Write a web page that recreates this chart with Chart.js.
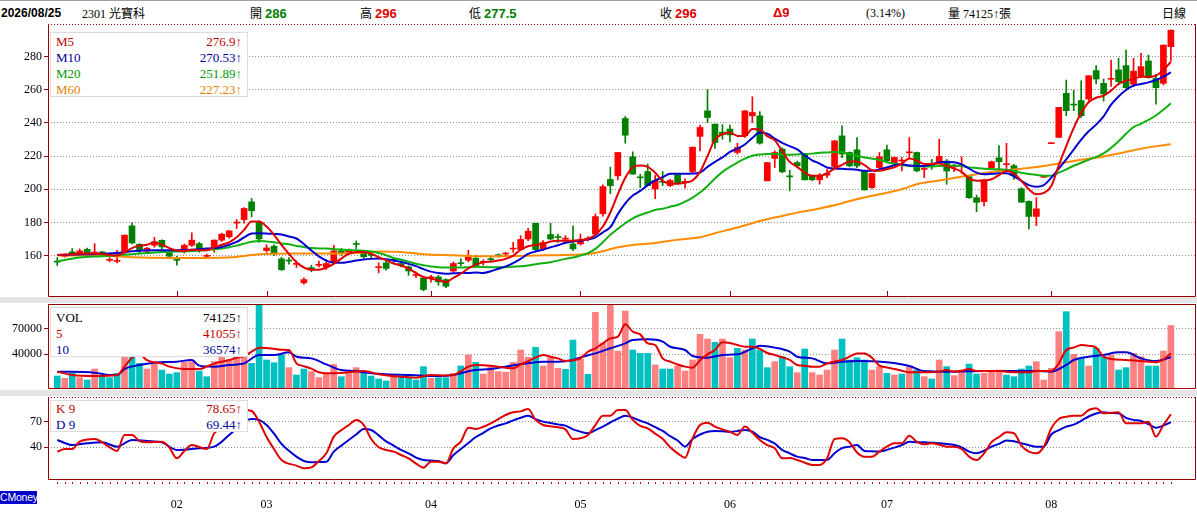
<!DOCTYPE html>
<html>
<head>
<meta charset="utf-8">
<script src="https://cdn.jsdelivr.net/npm/chart.js"></script>
<style>
body { margin: 0; background: #fff; width: 1197px; height: 513px; overflow: hidden; position: relative;
  font-family: 'Liberation Serif', 'Noto Sans CJK TC', serif; }
canvas { position: absolute; left: 0; }
.topline { position: absolute; left: 0; top: 0; width: 1197px; height: 1px; background: #a0a0a0; }
.hd { position: absolute; top: 5px; font-size: 12px; line-height: 16px; white-space: nowrap; color: #000; }
.hd b { font-family: 'Liberation Sans', sans-serif; font-size: 13px; }
.cjk { font-family: 'Noto Sans CJK TC', sans-serif; font-size: 12px; }
.g { color: #008000; }
.r { color: #e00000; }
.band { position: absolute; left: 0; width: 1197px; background: #e4e4e4; }
.box { position: absolute; left: 50px; width: 198px; background: #fff; border: 1px solid #dcdcdc; box-sizing: border-box;
  font-size: 13px; line-height: 16px; }
.row { display: flex; justify-content: space-between; padding: 0 5px 0 5px; white-space: nowrap; }
.cm { position: absolute; left: 0; top: 491px; width: 37px; height: 13px; background: #0000c8; color: #fff;
  font-family: 'Liberation Sans', sans-serif; font-size: 10.5px; line-height: 13px; overflow: hidden; letter-spacing: -0.2px; }
</style>
</head>
<body>
<div class="topline"></div>
<div class="hd" style="left:1px"><b style="font-size:12px">2026/08/25</b></div>
<div class="hd" style="left:82px">2301 <span class="cjk">光寶科</span></div>
<div class="hd" style="left:250px"><span class="cjk">開</span> <b class="g">286</b></div>
<div class="hd" style="left:360px"><span class="cjk">高</span> <b class="r">296</b></div>
<div class="hd" style="left:469px"><span class="cjk">低</span> <b class="g">277.5</b></div>
<div class="hd" style="left:660px"><span class="cjk">收</span> <b class="r">296</b></div>
<div class="hd" style="left:773px"><b class="r">Δ9</b></div>
<div class="hd" style="left:866px">(3.14%)</div>
<div class="hd" style="left:948px"><span class="cjk">量</span> 74125↑<span class="cjk">張</span></div>
<div class="hd" style="left:1162px"><span class="cjk">日線</span></div>

<canvas id="priceChart" width="1197" height="273" style="top:24px"></canvas>
<div class="band" style="top:297px;height:6px"></div>
<canvas id="volChart" width="1197" height="85" style="top:304px"></canvas>
<div class="band" style="top:390px;height:6px"></div>
<canvas id="kdChart" width="1197" height="116" style="top:397px"></canvas>

<div class="box" style="top:32px;height:65px;padding-top:1px">
  <div class="row" style="color:#c00000"><span>M5</span><span>276.9↑</span></div>
  <div class="row" style="color:#000099"><span>M10</span><span>270.53↑</span></div>
  <div class="row" style="color:#009900"><span>M20</span><span>251.89↑</span></div>
  <div class="row" style="color:#e08000"><span>M60</span><span>227.23↑</span></div>
</div>
<div class="box" style="top:307px;height:50px;padding-top:2px">
  <div class="row" style="color:#000"><span>VOL</span><span>74125↑</span></div>
  <div class="row" style="color:#c00000"><span>5</span><span>41055↑</span></div>
  <div class="row" style="color:#000099"><span>10</span><span>36574↑</span></div>
</div>
<div class="box" style="top:400px;height:32px">
  <div class="row" style="color:#c00000"><span>K 9</span><span>78.65↑</span></div>
  <div class="row" style="color:#000099"><span>D 9</span><span>69.44↑</span></div>
</div>
<div class="cm">CMoney</div>

<script>
// daily candles, index 0 = first trading day shown
const openP = [
  156.5, 159.5, 162.2, 160.8, 163.8, 161.5, 162.2, 157.1, 156.5, 161.8,
  177.9, 166.8, 162.6, 166.2, 169.2, 161.6, 157.4, 163.6, 166.2, 167.2,
  159.5, 164.2, 169.3, 171.3, 179.6, 181.7, 192.4, 180, 163, 165.6,
  158, 156.9, 154.7, 143.5, 152.3, 154.1, 153.2, 156.2, 162.8, 161.6,
  166.9, 162.2, 160.3, 152.7, 155.6, 157.3, 155.2, 153.2, 148, 146.5,
  146.6, 147.1, 145.5, 150.7, 155.3, 157.2, 158.4, 155.9, 157.7, 160.1,
  160.9, 163.9, 163.6, 170, 179.5, 164, 172.7, 171.1, 169.9, 167,
  167, 169.9, 173, 185.2, 205.9, 208.1, 242.7, 219.6, 207.1, 210.7,
  200.2, 204.4, 202.2, 208.7, 204.2, 210.7, 231.9, 247.3, 239.3, 234.5,
  236.3, 222.2, 232.2, 244.3, 244.3, 205.1, 218.6, 224.2, 207.9, 216.1,
  221.2, 208.1, 205.7, 208.5, 213.7, 232.2, 222.2, 223.8, 211.1, 201,
  213.1, 223.8, 216.1, 217, 222, 222.2, 212, 214.3, 216.5, 217,
  213.5, 214, 207.6, 194.9, 192.5, 213, 219, 214.8, 214.2, 200.3,
  192.7, 183.6, 207.2, 227.5, 231.3, 257.9, 251.2, 253.5, 254.5, 271.6,
  263.9, 266.3, 272, 274.6, 263.3, 268.5, 277.4, 266.9, 263.9, 286
];
const highP = [
  158.8, 161, 164.2, 164, 164.5, 167.2, 162.5, 158.8, 163.2, 172.5,
  179.7, 167.2, 165, 171, 169.5, 162.2, 159.6, 167, 173.7, 168,
  160.8, 169.5, 173.5, 175.2, 181.7, 189, 194.4, 181, 166.5, 166.5,
  159, 158.8, 156.8, 146.5, 154.2, 156.6, 157.2, 166.2, 164.2, 164,
  168.8, 163, 161.5, 155.6, 157.2, 158.5, 156.5, 153.8, 150.1, 147,
  148.1, 148.1, 146, 156.2, 158.2, 163.2, 160, 157.5, 159.5, 161,
  162, 168, 172, 176.5, 179.5, 169, 179.5, 173, 172, 178,
  173, 171.5, 185.2, 202.6, 213.3, 222.2, 243.9, 222.6, 209.1, 215.3,
  208.3, 210.7, 206, 209.5, 206.3, 225.4, 238.7, 260, 239.3, 239,
  238.7, 227.8, 247.5, 255.8, 246.8, 216.1, 223.2, 225, 211.5, 217,
  221.5, 208.5, 209.5, 212, 229.5, 238.3, 222.5, 231.2, 211.5, 209.5,
  222.2, 226.6, 219.5, 219.2, 231.2, 222.5, 214, 218, 230.2, 218,
  215, 219.6, 208, 196.5, 206, 217, 226.3, 227.7, 215, 201,
  193, 195, 207.2, 227.5, 249.4, 265.9, 259.7, 265.5, 268.5, 274.6,
  266.5, 278, 279, 284, 279, 282, 281, 269.3, 287, 296
];
const lowP = [
  154, 159, 160.5, 160.5, 161.3, 160.2, 160.5, 156.2, 155.6, 161,
  167, 161, 161.5, 165, 164, 159, 154.2, 161.5, 165.5, 162,
  158.2, 162, 168.5, 170.5, 176.3, 179.5, 183.3, 168, 162, 160,
  151, 154.8, 152.8, 142.7, 150.2, 153.2, 151.6, 155.2, 160.2, 161,
  164.2, 158.5, 158.5, 149.6, 151.2, 155.5, 153.2, 148.1, 146.7, 138.7,
  144, 142.1, 140.7, 150.1, 153.8, 156.2, 152.8, 154.2, 156.5, 159,
  159.8, 162, 163, 169, 162.6, 163, 169.6, 168, 168, 163,
  166.4, 168.8, 172, 183.8, 197.3, 205.7, 227.8, 209.1, 201, 202.2,
  194.3, 202.2, 201.5, 203, 200.6, 209.9, 223.2, 240.3, 224.6, 230.2,
  228.5, 221.2, 231.2, 240.3, 227.2, 205, 213.1, 210, 199, 213,
  205.5, 205.2, 203.1, 207, 213, 219, 213.5, 213, 199.5, 200.5,
  212, 216, 215, 211.1, 219, 210.5, 207, 212, 216, 203,
  210.6, 209.6, 194.5, 186.4, 190, 212, 210.6, 210.6, 206, 192,
  176, 178, 207.2, 227.5, 231.1, 244.4, 247.4, 243.2, 253.5, 263.5,
  253.1, 262, 263, 260.9, 261.9, 267.3, 267, 251.4, 262.9, 277.5
];
const closeP = [
  156, 160.5, 160.8, 162.8, 161.6, 161.7, 160.8, 157.3, 156.7, 172.3,
  167.6, 163.2, 164.4, 168.2, 165.2, 159.6, 157.1, 166.2, 169.3, 163.2,
  159.7, 169.3, 172.9, 174.9, 179.8, 188.4, 187, 170, 164.6, 160.8,
  151.5, 156.7, 154.9, 145.5, 152.1, 154.3, 155.2, 162.8, 161.2, 163.2,
  166.7, 159.2, 160.1, 152.9, 152.2, 157.1, 153.8, 150.7, 148.2, 139.5,
  146.8, 144.1, 141.5, 155.2, 155.1, 160.2, 153.2, 156.1, 157.5, 159.9,
  161.1, 164.1, 169.7, 174.7, 163.6, 168, 170, 170.9, 170.1, 164,
  169, 170.1, 183.5, 201.6, 202.2, 222.2, 232.6, 209.1, 206.9, 202.2,
  205.3, 204.2, 205.3, 203.8, 204.4, 225.4, 237.3, 243.3, 228.2, 233,
  232.8, 225.2, 247.3, 246.3, 227.8, 216.1, 222.2, 210.5, 207.5, 214.1,
  205.7, 205.7, 208.5, 209.5, 229.2, 221.2, 214.1, 214.1, 199.6, 209.5,
  219.6, 217.1, 219.2, 217.3, 222.4, 211.1, 212.3, 214, 219.8, 211,
  214, 214.4, 194.9, 192.1, 205.6, 216.6, 216.6, 215.2, 208.2, 192.2,
  183.6, 188.2, 207.2, 227.5, 249.4, 247.4, 250.8, 244.4, 268.5, 266.5,
  257.5, 266.7, 264.9, 261.3, 271.3, 274, 267.3, 261.3, 287, 296
];
const volume = [
  14300, 11600, 17500, 12400, 9600, 22600, 13500, 12400, 17500, 48000,
  42000, 29300, 22600, 28100, 21400, 16700, 18300, 30500, 31300, 20200,
  13500, 31300, 40000, 33300, 42000, 45000, 29300, 100000, 33300, 30100,
  39200, 24200, 15500, 22600, 19500, 12400, 17500, 28100, 13500, 19500,
  24200, 20200, 14300, 10800, 8400, 15500, 12400, 12400, 9600, 25400,
  11600, 12400, 12400, 17500, 26200, 39200, 30500, 16700, 25400, 19500,
  18700, 30500, 45100, 36400, 48300, 26200, 36000, 23400, 22200, 56900,
  34500, 16300, 89800, 53000, 100000, 43900, 91300, 45100, 41100, 41100,
  27400, 22600, 22600, 26200, 20200, 33300, 63600, 58100, 54200, 58100,
  36000, 47100, 45100, 58100, 45100, 24200, 31300, 37200, 25400, 18300,
  46300, 18300, 15500, 21400, 45100, 58100, 33300, 36000, 33300, 21400,
  25400, 17500, 15500, 16700, 25400, 21400, 13500, 10800, 33300, 25400,
  14700, 18700, 28500, 16700, 17500, 19500, 21400, 15500, 13500, 22600,
  26200, 31300, 9600, 23400, 66800, 90500, 40000, 35200, 26200, 47100,
  37200, 39200, 21400, 24200, 41100, 37200, 26200, 26200, 43900, 74125
];
// 1 = pink (up) volume bar, 0 = cyan
const volUp = [
  0, 1, 0, 1, 0, 1, 0, 0, 0, 1,
  0, 0, 1, 1, 0, 0, 0, 1, 1, 0,
  0, 1, 1, 1, 1, 1, 0, 0, 0, 0,
  0, 1, 0, 0, 1, 1, 1, 1, 0, 1,
  1, 0, 0, 0, 0, 1, 0, 0, 0, 0,
  1, 0, 0, 1, 0, 1, 0, 1, 1, 1,
  1, 1, 1, 1, 0, 1, 1, 1, 0, 0,
  1, 0, 1, 1, 1, 1, 1, 0, 0, 0,
  1, 0, 0, 1, 1, 1, 1, 1, 0, 1,
  1, 0, 1, 0, 0, 0, 1, 0, 0, 1,
  0, 1, 1, 1, 1, 0, 0, 0, 0, 1,
  1, 0, 1, 0, 1, 0, 1, 0, 1, 0,
  1, 1, 0, 0, 1, 1, 1, 0, 0, 0,
  0, 1, 1, 1, 1, 0, 1, 0, 1, 0,
  0, 1, 0, 0, 1, 1, 0, 0, 1, 1
];

// moving averages: [day index, value]
const m5 = [[0,160.3],[2,160.8],[4,161.2],[6,161],[8,160],[9,162],[10,164.5],[11,166],[12,166.5],[13,168],[14,166.5],[15,164.5],[16,163],[17,162.8],[18,163.5],[19,163.2],[20,163.2],[21,165],[22,166.5],[23,168],[24,171],[25,175.5],[26,180.5],[27,180.5],[28,177.5],[29,172.5],[30,166.5],[31,161],[32,156],[33,152.8],[34,151.5],[35,151.5],[36,152.8],[37,155],[38,158.2],[39,161],[40,162.2],[41,162.2],[42,161.2],[43,159],[44,157.2],[45,155.2],[46,154],[47,152.2],[48,149.5],[49,147.1],[50,146.1],[51,145.1],[52,144.1],[53,146.5],[54,149.1],[55,152.2],[56,154.5],[57,156],[58,156.3],[59,157],[60,158],[61,160],[62,163.5],[63,165.6],[64,166.5],[65,167],[66,168.5],[67,169],[68,169],[69,169],[70,169.5],[71,170],[72,172.5],[73,177.5],[74,186],[75,197],[76,207],[77,213.3],[78,214.3],[79,213.5],[80,210],[81,205],[82,203.5],[83,203.3],[84,204],[85,205.3],[86,210.5],[87,220],[88,230],[89,233.2],[90,234.2],[91,232.2],[92,232.2],[93,236.3],[94,236],[95,232],[96,229.5],[97,223],[98,216.5],[99,213.5],[100,210],[101,208.1],[102,208.1],[103,209.7],[104,212.5],[105,214.7],[106,216.7],[107,216.8],[108,214.5],[109,211.5],[110,211.1],[111,212.1],[112,213.3],[113,215.5],[114,218.5],[115,217.3],[116,215.3],[117,215.3],[118,215.5],[119,214],[120,212.5],[121,210.5],[122,206.5],[123,205.2],[124,205.3],[125,206],[126,208.5],[127,211],[128,209.5],[129,205],[130,200],[131,197],[132,197.8],[133,202],[134,214.5],[135,226],[136,237],[137,246],[138,252.5],[139,255.2],[140,256.5],[141,259.5],[142,263.5],[143,265.5],[144,266.5],[145,267.9],[146,267.9],[147,268.5],[148,272],[149,276.9]];
const m10 = [[0,160.3],[4,160.8],[8,161.5],[10,162.6],[13,163.2],[16,163.2],[18,163.5],[20,164.2],[22,165.2],[24,168.2],[25,171],[26,173.3],[27,173.5],[28,173.3],[29,173],[30,172.7],[31,171.5],[32,170.3],[33,167],[34,163],[35,159.5],[36,157],[37,155.6],[38,155.6],[39,156.2],[40,157],[41,157.6],[42,158],[43,158.2],[44,157.8],[45,157],[46,156.2],[47,155],[48,153.6],[49,151.8],[50,150.3],[51,149.5],[52,149.1],[53,149.3],[54,149.5],[55,149.5],[56,149.8],[57,149.5],[58,150.5],[59,152],[60,153.5],[61,155.5],[62,158],[63,161],[64,162.5],[65,163.6],[66,165],[67,166.2],[68,167.7],[69,168.5],[70,169],[71,169.8],[72,171],[73,174],[74,177.1],[75,185],[76,191.5],[77,196.2],[78,199],[79,202.5],[80,205.3],[81,207.3],[82,209.3],[83,209.3],[84,209.3],[85,209.5],[86,210.1],[87,213.5],[88,216.5],[89,219.2],[90,222.5],[91,224.5],[92,227],[93,231],[94,234.2],[95,233.5],[96,230.5],[97,228],[98,226],[99,224],[100,220.5],[101,217.5],[102,215.5],[103,213.1],[104,212.5],[105,212.3],[106,212.1],[107,211.8],[108,211.1],[109,211.1],[110,212],[111,213.1],[112,214.5],[113,215.1],[114,214.3],[115,214.1],[116,214.1],[117,215],[118,216.3],[119,216.5],[120,216.3],[121,215],[122,212.5],[123,210],[124,209],[125,209.3],[126,209.6],[127,209.6],[128,207.8],[129,205],[130,202.5],[131,201.5],[132,202.5],[133,207],[134,212.5],[135,218],[136,224],[137,230],[138,235],[139,239],[140,244],[141,251],[142,256],[143,259.9],[144,262.5],[145,263.5],[146,264.5],[147,265.9],[148,268],[149,270.53]];
const m20 = [[0,156.5],[3,158.8],[6,159.6],[10,160.8],[14,162.2],[18,162.8],[22,164.2],[24,166],[25,167.2],[26,168.3],[27,168.8],[28,168.5],[29,168],[30,167.3],[31,166.8],[32,165.8],[33,165.2],[34,164.5],[36,164.2],[38,163.6],[40,163.2],[41,162.9],[42,162.5],[43,161.5],[44,160.2],[45,158.5],[46,157.5],[47,156.3],[48,155],[49,154.2],[50,153.4],[51,153],[52,152.8],[54,152.8],[56,153.2],[58,153],[60,153],[62,153.5],[63,154],[64,154.8],[66,156],[68,158],[69,158.8],[70,160],[71,161.5],[72,164],[73,168],[74,172.5],[75,176.1],[76,179.5],[77,182.5],[78,184.5],[79,186],[80,187.5],[81,188.2],[82,189.5],[83,190.5],[84,192.5],[85,195],[86,198],[87,202],[88,206.5],[89,210.5],[90,213.5],[91,216.1],[92,218.5],[93,220.2],[94,221],[95,221.2],[96,221.2],[97,221],[98,220.8],[99,221],[100,221.2],[101,221.5],[102,222],[103,222.2],[104,222.5],[105,222.3],[106,221.2],[107,220.2],[108,219.2],[109,218.5],[110,217.8],[111,216.3],[112,215.5],[113,214.7],[114,214.2],[115,213.7],[116,213.7],[117,213.7],[118,214],[119,214],[120,214.3],[121,214],[122,213.2],[123,212.8],[124,212.4],[125,212.2],[126,212],[127,211.6],[128,211],[129,210],[130,209.2],[131,208.7],[132,208.2],[133,208.2],[134,210],[135,212],[136,214.2],[137,216],[138,217.8],[139,219.5],[140,221.6],[141,225],[142,229],[143,233.5],[144,237.5],[145,239.5],[146,241.8],[147,244.5],[148,248],[149,251.89]];
const m60 = [[0,160],[5,160],[8,159.6],[10,159],[15,158.5],[20,158.5],[24,159.2],[27,160.8],[31,161.2],[36,161.2],[40,161.6],[43,162.5],[46,162.2],[49,160.8],[53,160.2],[57,159.6],[60,159.6],[64,160],[68,160.4],[71,161],[73,162.6],[75,165],[77,166.4],[80,167.6],[82,169],[84,170],[86,171],[88,173.5],[91,176.9],[94,180.9],[97,183.9],[99,185.9],[102,188.4],[105,191.6],[107,194],[110,197],[113,200],[115,203],[118,205.3],[121,207.6],[124,209.8],[126,211],[129,212.4],[132,214],[134,215.6],[137,217.8],[140,219.8],[142,221.6],[145,224.5],[148,226.6],[149,227.23]];

const vol5 = [[0,19500],[2,15500],[5,14300],[8,15500],[9,25400],[10,36000],[11,40000],[12,33000],[13,30500],[14,29000],[15,25400],[17,22600],[19,22600],[20,25400],[21,29000],[22,31300],[23,33300],[24,36000],[25,38000],[26,43100],[27,47900],[28,47500],[29,46500],[30,45500],[31,45100],[32,29300],[33,26000],[34,23000],[35,18700],[36,17500],[38,18000],[39,18700],[41,20200],[43,16300],[45,14000],[46,13500],[48,12400],[50,15500],[52,15000],[53,15500],[54,20000],[55,25400],[56,27400],[58,26600],[59,25400],[60,24000],[61,23400],[62,28100],[63,32000],[64,36000],[65,39200],[66,37000],[67,35200],[68,32100],[69,33000],[70,35200],[71,43000],[72,47100],[73,53000],[74,58900],[75,60900],[76,75500],[77,66800],[78,63600],[79,53000],[80,51000],[81,35200],[82,31300],[83,28000],[84,25400],[85,24200],[86,33000],[87,40000],[88,45100],[89,54200],[90,53500],[91,51000],[92,49000],[93,49000],[94,46500],[95,41500],[96,39200],[97,36500],[98,33300],[99,27400],[100,26500],[101,25400],[102,25400],[103,29000],[104,31300],[105,33300],[106,37200],[107,41100],[108,41100],[109,36000],[110,26600],[111,24500],[112,22600],[113,20500],[114,18700],[116,18700],[118,19500],[119,21400],[120,19500],[121,20500],[122,22600],[123,20200],[126,20200],[128,18700],[130,18700],[131,20200],[133,20200],[134,29300],[135,45100],[136,48000],[137,51000],[138,50000],[139,47900],[140,37200],[141,34500],[143,33300],[145,32100],[147,30500],[148,34000],[149,41055]];
const vol10 = [[0,19500],[5,18300],[7,15500],[8,15500],[9,22600],[11,27400],[13,30100],[16,31300],[18,33300],[19,26600],[21,25400],[23,27400],[25,29300],[27,39200],[29,39200],[31,42300],[32,37200],[34,35200],[36,28100],[38,21400],[40,20200],[41,18700],[44,16300],[47,15500],[49,14700],[51,14300],[53,15500],[55,20000],[56,21400],[58,22600],[60,25400],[63,29300],[65,31300],[67,31300],[69,33300],[70,36400],[72,41100],[74,47100],[76,53000],[77,56900],[79,57700],[81,55000],[82,49000],[84,45100],[85,38000],[87,36000],[89,39200],[91,40000],[93,47100],[94,50200],[96,47900],[98,43100],[99,37200],[101,35200],[103,29300],[105,31300],[107,32100],[109,31700],[111,30500],[114,26200],[116,20200],[119,19500],[124,20200],[127,20200],[131,20200],[133,19500],[135,27400],[136,33300],[138,37200],[140,39200],[142,42300],[143,42300],[145,35200],[147,32100],[149,36574]];

const kLine = [[0,35],[1,38],[2,38],[3,46.6],[5,49.7],[7,40],[8,35.7],[9,54.4],[10,54.4],[11,47.4],[12,45.8],[14,46.6],[15,39.6],[16,27.1],[17,35.7],[18,42.7],[20,38],[21,56.4],[22,62],[23,70],[24,78],[25,83.6],[26,82.5],[27,70],[28,52],[29,38],[30,25.2],[32,18.6],[33,15.5],[34,16.5],[35,24],[36,33],[37,52.5],[38,60],[39,66],[40,72],[41,66.1],[42,49.7],[43,40],[44,36.9],[45,35],[46,31],[47,27.1],[48,21],[49,16.2],[50,23.2],[51,23.2],[52,21.3],[53,38.8],[54,46.6],[55,63],[56,61.4],[57,64],[58,68],[59,73],[60,77.8],[61,80.9],[62,82],[63,84.8],[64,72],[65,66.1],[66,64.5],[67,63.5],[68,61],[69,49.7],[70,50.5],[71,54.4],[72,66],[73,77],[74,77],[75,83.6],[76,83.6],[77,72],[78,65],[79,62.2],[80,56],[81,50],[82,40],[83,33],[84,27.9],[85,50.5],[86,66],[87,68.8],[88,64.2],[89,61],[90,58],[91,54.4],[92,64.2],[93,57],[94,48.6],[95,42.5],[96,38.8],[97,27.1],[98,27.5],[99,25.2],[100,22],[101,19.4],[102,19.4],[103,27.1],[104,49.7],[105,50.5],[106,46],[107,34],[108,29.1],[109,29.1],[110,35],[111,40.8],[112,44.7],[113,44.7],[114,53.6],[115,46.6],[116,43.5],[117,44.7],[118,43],[119,40.8],[120,40.8],[121,38],[122,29.1],[123,25.2],[124,33],[125,46],[126,52],[127,57.5],[128,56.4],[129,42],[130,35],[131,33],[132,40.8],[133,62.2],[134,73.1],[135,75.8],[136,77],[137,77],[138,83.6],[139,85.6],[140,79.7],[141,80.5],[142,80.9],[143,68],[144,68],[145,68],[146,70],[147,52.5],[148,66.1],[149,78.65]];
const dLine = [[0,48.6],[2,42.7],[4,44.7],[6,45.8],[8,40.8],[10,48.6],[12,47.4],[14,45.8],[16,36.9],[19,38.8],[21,40.8],[23,54.4],[24,62],[25,70],[26,73.1],[27,72],[28,66.1],[29,56],[30,44],[31,36],[32,29.1],[33,24],[34,22.5],[35,22.8],[36,23.2],[37,35],[38,42],[39,48.6],[40,55],[41,61.4],[42,60.3],[43,54],[44,47],[45,42],[46,37],[47,33],[48,28],[49,25.2],[50,24.5],[51,24],[52,21.3],[53,31],[54,38],[55,45],[56,52],[57,57],[58,62.2],[59,65.5],[60,68],[61,71.5],[62,74.5],[63,77],[64,73],[65,70],[66,68.5],[67,66.8],[68,65.3],[69,61],[70,58.3],[71,56.4],[72,60],[73,64.2],[74,69],[75,73.5],[76,77],[77,74.7],[78,71],[79,68],[80,63.5],[81,59.1],[82,53],[83,48],[84,40.8],[85,49.7],[86,55],[87,58.3],[88,59.1],[89,58.8],[90,58.3],[91,59],[92,60.3],[93,58.3],[94,52],[95,48.6],[96,44.5],[97,36.9],[98,33],[99,29.1],[100,27.5],[101,25.2],[102,25.2],[103,25.2],[104,33],[105,39],[106,40.8],[107,42.7],[108,35.7],[109,35.3],[110,35],[111,37],[112,39.6],[113,42.5],[114,46.6],[115,46],[116,45.8],[117,45.3],[118,44.7],[119,43.8],[120,42.7],[121,40],[122,35],[123,33],[124,36],[125,40.8],[126,44],[127,48],[128,47],[129,44.7],[130,42.5],[131,40.8],[132,40.8],[133,55],[134,60],[135,64.2],[136,66.5],[137,71],[138,76],[139,79.5],[140,80.9],[141,80.2],[142,79.7],[143,74.5],[144,72],[145,70.8],[146,67],[147,63],[148,65.5],[149,69.44]];

const monthIdx = [16, 28, 50, 70, 90, 111, 133];
const monthLabels = ['02', '03', '04', '05', '06', '07', '08'];
const priceTicks = [160, 180, 200, 220, 240, 260, 280];
const volTicks = [40000, 70000];
const kdTicks = [40, 70];

Chart.defaults.font.family = 'Liberation Serif';
Chart.defaults.animation = false;

const X_MIN = -1.24, X_MAX = 152.36;

const framePlugin = {
    id: 'frame',
    afterDatasetsDraw(chart, args, opts) {
        const ctx = chart.ctx;
        const a = chart.chartArea;
        const xs = chart.scales.x;
        ctx.save();
        ctx.strokeStyle = '#990000';
        ctx.lineWidth = 1;
        ctx.beginPath();
        ctx.moveTo(a.left + 0.5, a.top);
        ctx.lineTo(a.left + 0.5, a.bottom - 0.5);
        ctx.lineTo(a.right - 0.5, a.bottom - 0.5);
        ctx.lineTo(a.right - 0.5, a.top);
        ctx.stroke();
        ctx.beginPath();
        ctx.setLineDash(opts.topDash ? [1, 2] : []);
        ctx.moveTo(a.left, a.top + 0.5);
        ctx.lineTo(a.right, a.top + 0.5);
        ctx.stroke();
        ctx.setLineDash([]);
        if (opts.monthTicks) {
            monthIdx.forEach(function(m) {
                const x = Math.round(xs.getPixelForValue(m)) + 0.5;
                ctx.beginPath();
                ctx.moveTo(x, a.bottom - 6);
                ctx.lineTo(x, a.bottom);
                ctx.stroke();
            });
        }
        if (opts.barDots) {
            ctx.fillStyle = '#cc0000';
            for (let i = 0; i < closeP.length; i++) {
                ctx.fillRect(Math.round(xs.getPixelForValue(i)), a.bottom + 2, 1, 2);
            }
        }
        ctx.restore();
    }
};

function xAxis(show) {
    const ax = {
        type: 'linear', min: X_MIN, max: X_MAX, offset: false, display: show,
        grid: { display: false }, border: { display: false }
    };
    if (show) {
        ax.afterBuildTicks = function(a) { a.ticks = monthIdx.map(function(v) { return { value: v }; }); };
        ax.afterFit = function(a) { a.height = 33; a.paddingLeft = 0; a.paddingRight = 0; };
        ax.ticks = {
            autoSkip: false, maxRotation: 0, padding: 10, color: '#000',
            font: { size: 12 },
            callback: function(v) { return monthLabels[monthIdx.indexOf(v)]; }
        };
    }
    return ax;
}

function yAxis(min, max, tickList) {
    return {
        position: 'left', min: min, max: max,
        afterBuildTicks: function(a) { a.ticks = tickList.map(function(v) { return { value: v }; }); },
        // keep the plot area flush with the canvas edges
        afterFit: function(a) { a.width = 48; a.paddingTop = 0; a.paddingBottom = 0; },
        grid: { color: '#8c8c8c', tickLength: 4, tickColor: '#990000' },
        border: { display: false, dash: [1, 2] },
        ticks: { color: '#000', padding: 2, autoSkip: false, font: { size: 12 },
                 callback: function(v) { return String(v); } }
    };
}

function lineSet(pts, color, order) {
    return {
        type: 'line',
        data: pts.map(function(p) { return { x: p[0], y: p[1] }; }),
        borderColor: color, borderWidth: 2, pointRadius: 0,
        cubicInterpolationMode: 'monotone', order: order
    };
}

const baseOpts = {
    responsive: false,
    events: [],
    layout: { padding: { left: 0, right: 1, top: 0, bottom: 0 } },
    plugins: { legend: { display: false }, tooltip: { enabled: false } }
};

const candleColor = closeP.map(function(c, i) { return c >= openP[i] ? '#ff0000' : '#008000'; });

new Chart(document.getElementById('priceChart'), {
    type: 'bar',
    data: {
        datasets: [
            lineSet(m5, '#e00000', 1),
            lineSet(m10, '#0000d0', 2),
            lineSet(m20, '#10b010', 3),
            lineSet(m60, '#ff8c00', 4),
            {
                data: closeP.map(function(c, i) { return { x: i, y: [openP[i], c] }; }),
                backgroundColor: candleColor, barThickness: 6, minBarLength: 1,
                grouped: false, order: 10
            },
            {
                data: closeP.map(function(c, i) { return { x: i, y: [lowP[i], highP[i]] }; }),
                backgroundColor: candleColor, barThickness: 1, minBarLength: 1,
                grouped: false, order: 11
            }
        ]
    },
    options: Object.assign({}, baseOpts, {
        scales: { x: xAxis(false), y: yAxis(135, 299.7, priceTicks) },
        plugins: Object.assign({}, baseOpts.plugins, { frame: { topDash: true, monthTicks: true } })
    }),
    plugins: [framePlugin]
});

new Chart(document.getElementById('volChart'), {
    type: 'bar',
    data: {
        datasets: [
            lineSet(vol5, '#e00000', 1),
            lineSet(vol10, '#0000d0', 2),
            {
                data: volume.map(function(v, i) { return { x: i, y: v }; }),
                backgroundColor: volUp.map(function(u) { return u ? '#ff8080' : '#00c0c0'; }),
                barThickness: 6, grouped: false, order: 10
            }
        ]
    },
    options: Object.assign({}, baseOpts, {
        scales: { x: xAxis(false), y: yAxis(-1066, 99570, volTicks) },
        plugins: Object.assign({}, baseOpts.plugins, { frame: { topDash: false } })
    }),
    plugins: [framePlugin]
});

new Chart(document.getElementById('kdChart'), {
    type: 'line',
    data: {
        datasets: [
            lineSet(kLine, '#e00000', 1),
            lineSet(dLine, '#0000d0', 2)
        ]
    },
    options: Object.assign({}, baseOpts, {
        scales: { x: xAxis(true), y: yAxis(1.8, 98.8, kdTicks) },
        plugins: Object.assign({}, baseOpts.plugins, { frame: { topDash: true, barDots: true } })
    }),
    plugins: [framePlugin]
});
</script>
</body>
</html>
